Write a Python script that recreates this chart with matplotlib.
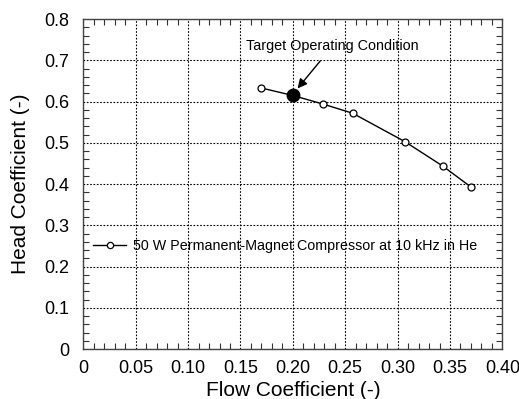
import numpy as np
import matplotlib
matplotlib.use('Agg')
import matplotlib.pyplot as plt
from matplotlib.ticker import MultipleLocator, FixedFormatter, FixedLocator

plt.rcParams['font.family'] = ['Liberation Sans', 'DejaVu Sans']

# measured compressor curve
flow = [0.170, 0.200, 0.229, 0.257, 0.307, 0.343, 0.370]
head = [0.633, 0.615, 0.594, 0.572, 0.503, 0.444, 0.393]
# target operating point
target_flow = 0.200
target_head = 0.615

xticks = [0, 0.05, 0.10, 0.15, 0.20, 0.25, 0.30, 0.35, 0.40]
xlabels = ['0', '0.05', '0.10', '0.15', '0.20', '0.25', '0.30', '0.35', '0.40']
yticks = [0, 0.1, 0.2, 0.3, 0.4, 0.5, 0.6, 0.7, 0.8]
ylabels = ['0', '0.1', '0.2', '0.3', '0.4', '0.5', '0.6', '0.7', '0.8']

fig = plt.figure(figsize=(5.19, 3.99), dpi=100)
ax = fig.add_axes([0.1605, 0.125, 0.8075, 0.827])

ax.plot(flow, head, color='black', lw=1.0, marker='o', ms=5, mfc='white',
        mec='black', mew=0.9,
        label='50 W Permanent-Magnet Compressor at 10 kHz in He')
ax.plot(target_flow, target_head, 'o', color='black', ms=9, zorder=5)

ax.annotate('Target Operating Condition', xy=(0.2045, 0.632), xytext=(0.238, 0.735),
            ha='center', va='center', fontsize=10.4,
            arrowprops=dict(arrowstyle='-|>', color='black', lw=1.0,
                            mutation_scale=14, shrinkA=5, shrinkB=0))

ax.set_xlim(0, 0.40)
ax.set_ylim(0, 0.8)
ax.xaxis.set_major_locator(FixedLocator(xticks))
ax.xaxis.set_major_formatter(FixedFormatter(xlabels))
ax.yaxis.set_major_locator(FixedLocator(yticks))
ax.yaxis.set_major_formatter(FixedFormatter(ylabels))
ax.xaxis.set_minor_locator(MultipleLocator(0.01))
ax.yaxis.set_minor_locator(MultipleLocator(0.02))
ax.tick_params(which='both', direction='in', top=True, right=True,
               labelsize=13, color='#333333')
ax.tick_params(axis='x', which='major', length=0, pad=8)
ax.tick_params(axis='y', which='major', length=0, pad=10)
ax.tick_params(which='minor', length=4, width=0.8)

ax.grid(True, which='major', color='black', linestyle=(0, (1.5, 1.5)), lw=0.8)
for s in ax.spines.values():
    s.set_color('#444444')
    s.set_linewidth(1.0)

ax.set_xlabel('Flow Coefficient (-)', fontsize=15, labelpad=3)
ax.set_ylabel('Head Coefficient (-)', fontsize=15, labelpad=10)

leg = ax.legend(loc='center left', bbox_to_anchor=(0.0, 0.3125), frameon=False,
                fontsize=10.3, handlelength=2.3, handletextpad=0.5,
                borderaxespad=0.3)
for h in leg.legend_handles:
    h.set_markersize(4.5)

fig.savefig('out.png', dpi=100)
